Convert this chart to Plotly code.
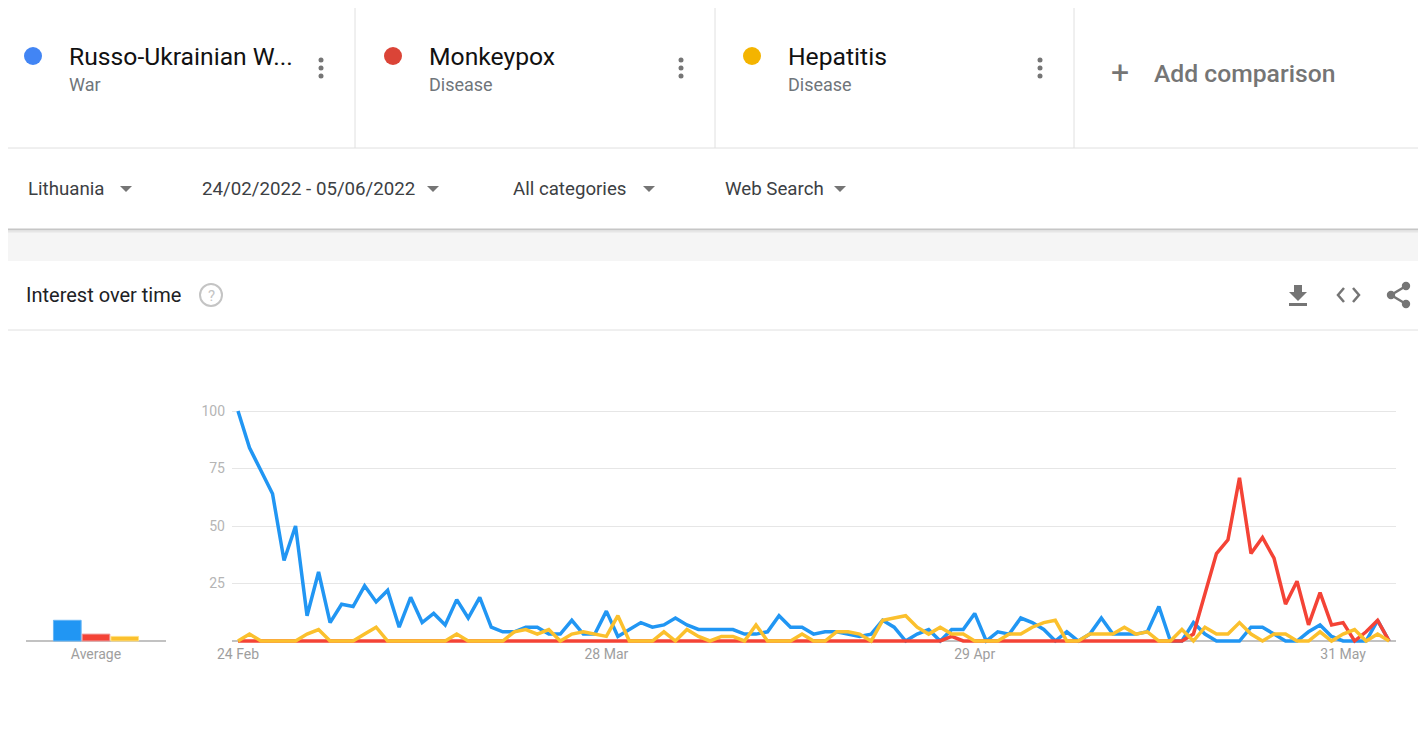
import pandas as pd
import plotly.graph_objects as go

# the page puts the figure 8px in from the top-left corner, so the figure is
# sized and positioned to land on the 1426x729 window
OFF = 8
W, H = 1426 - OFF, 729 - 2 * OFF

# daily interest, 24 Feb 2022 onwards
war = [100, 84, 74, 64, 35, 50, 11, 30, 8, 16, 15, 24, 17, 22, 6, 19, 8, 12, 7, 18,
       10, 19, 6, 4, 4, 6, 6, 3, 3, 9, 3, 3, 13, 2, 5, 8, 6, 7, 10, 7,
       5, 5, 5, 5, 3, 3, 4, 11, 6, 6, 3, 4, 4, 3, 2, 3, 9, 6, 0, 3,
       5, 0, 5, 5, 12, 0, 4, 3, 10, 8, 5, 0, 4, 0, 3, 10, 3, 3, 3, 4,
       15, 0, 0, 8, 3, 0, 0, 0, 6, 6, 3, 0, 0, 4, 7, 2, 0, 0, 0, 9, 0]
monkeypox = [0] * 62 + [2] + [0] * 20 + [3, 20, 38, 44, 71, 38, 45, 36, 16, 26, 7, 21, 7, 8, 0, 4, 9, 0]
hepatitis = [0, 3, 0, 0, 0, 0, 3, 5, 0, 0, 0, 3, 6, 0, 0, 0, 0, 0, 0, 3,
             0, 0, 0, 0, 4, 5, 3, 5, 0, 3, 4, 3, 2, 11, 0, 0, 0, 4, 0, 5,
             2, 0, 2, 2, 0, 7, 0, 0, 0, 3, 0, 0, 4, 4, 3, 0, 9, 10, 11, 6,
             3, 6, 3, 3, 0, 0, 0, 3, 3, 6, 8, 9, 0, 0, 3, 3, 3, 6, 3, 4,
             0, 0, 5, 0, 6, 3, 3, 8, 3, 0, 3, 3, 0, 0, 4, 0, 3, 5, 0, 3, 0]

averages = [9, 3, 2]
tick_dates = ["2022-02-24", "2022-03-28", "2022-04-29", "2022-05-31"]
tick_labels = ["24 Feb", "28 Mar", "29 Apr", "31 May"]

dates = pd.date_range("2022-02-24", periods=len(war), freq="D")

colors = dict(war="#2196F3", monkeypox="#F44336", hepatitis="#FBC02D")
dot_colors = ["#4285F4", "#DB4437", "#F4B400"]
grey = "#757575"


def px(x):
    return (x - OFF) / W


def py(y):
    return 1 - (y - OFF) / H


# y axis: 0 at 641px, 100 at 411px, with a little padding so lines are not clipped
pad = 1.5
unit = (641 - 411) / 100
y_dom = [py(641 + pad * unit), py(411 - pad * unit)]

fig = go.Figure()
fig.add_scatter(x=dates, y=war, mode="lines", line=dict(color=colors["war"], width=3.5),
                name="Russo-Ukrainian War")
fig.add_scatter(x=dates, y=monkeypox, mode="lines", line=dict(color=colors["monkeypox"], width=3.5),
                name="Monkeypox")
fig.add_scatter(x=dates, y=hepatitis, mode="lines", line=dict(color=colors["hepatitis"], width=3.5),
                name="Hepatitis")

fig.add_bar(x=[0, 1, 2], y=averages, xaxis="x2", yaxis="y2", width=0.965,
            marker=dict(color=[colors["war"], colors["monkeypox"], colors["hepatitis"]],
                        line=dict(color=["#64B5F6", "#EF9A9A", "#FFE082"], width=1)))

fig.update_layout(
    width=W,
    height=H,
    margin=dict(t=0, b=0, l=0, r=0, pad=0, autoexpand=False),
    paper_bgcolor="white",
    plot_bgcolor="white",
    showlegend=False,
    font=dict(family="Roboto", color="#202124"),
    xaxis=dict(
        domain=[px(232), px(1396)],
        range=["2022-02-23 11:30", "2022-06-04 14:20"],
        tickvals=tick_dates,
        ticktext=tick_labels,
        showgrid=False,
        zeroline=False,
        showline=False,
        ticks="",
        automargin=False,
        tickfont=dict(size=14, color="#9e9e9e"),
        anchor="y",
    ),
    yaxis=dict(
        domain=y_dom,
        range=[-pad, 100 + pad],
        tickvals=[25, 50, 75, 100],
        showgrid=True,
        gridcolor="#e6e6e6",
        gridwidth=1,
        zeroline=True,
        zerolinecolor="#c2c2c2",
        zerolinewidth=2,
        ticks="",
        automargin=False,
        ticklabelstandoff=6,
        tickfont=dict(size=14, color="#b5b5b5"),
        anchor="x",
    ),
    xaxis2=dict(
        domain=[px(26), px(166)],
        range=[-1.439, 3.439],
        tickvals=[1],
        ticktext=["Average"],
        showgrid=False,
        zeroline=False,
        ticks="",
        automargin=False,
        tickfont=dict(size=14, color="#9e9e9e"),
        anchor="y2",
    ),
    yaxis2=dict(
        domain=y_dom,
        range=[-pad, 100 + pad],
        showgrid=False,
        showticklabels=False,
        zeroline=True,
        zerolinecolor="#c2c2c2",
        zerolinewidth=2,
        automargin=False,
        anchor="x2",
    ),
)

shapes = []
annotations = []


def line(x0, y0, x1, y1, color="#e0e0e0", width=1):
    shapes.append(dict(type="line", xref="paper", yref="paper",
                       x0=px(x0), y0=py(y0), x1=px(x1), y1=py(y1),
                       line=dict(color=color, width=width)))


def circle(cx, cy, r, fill=None, outline=None, width=0):
    shapes.append(dict(type="circle", xref="paper", yref="paper",
                       x0=px(cx - r), x1=px(cx + r), y0=py(cy + r), y1=py(cy - r),
                       fillcolor=fill if fill else "rgba(0,0,0,0)",
                       line=dict(color=outline if outline else "rgba(0,0,0,0)", width=width)))


def rect(x0, y0, x1, y1, fill):
    shapes.append(dict(type="rect", xref="paper", yref="paper", layer="below",
                       x0=px(x0), x1=px(x1), y0=py(y1), y1=py(y0),
                       fillcolor=fill, line=dict(width=0)))


def path(points, fill=None, color=grey, width=0, closed=True):
    d = "M " + " L ".join(f"{px(x)},{py(y)}" for x, y in points)
    if closed:
        d += " Z"
    shapes.append(dict(type="path", xref="paper", yref="paper", path=d,
                       fillcolor=fill if fill else "rgba(0,0,0,0)",
                       line=dict(color=color if width else "rgba(0,0,0,0)", width=width)))


def text(x, y, s, size, color="#202124", anchor="left", weight=None):
    f = dict(size=size, color=color, family="Roboto")
    if weight:
        f["weight"] = weight
    annotations.append(dict(xref="paper", yref="paper", x=px(x), y=py(y), text=s,
                            showarrow=False, xanchor=anchor, yanchor="middle",
                            borderpad=0, borderwidth=0, font=f))


# header cards with the compared terms
terms = ["Russo-Ukrainian W...", "Monkeypox", "Hepatitis"]
kinds = ["War", "Disease", "Disease"]
for i, (term, kind) in enumerate(zip(terms, kinds)):
    x0 = 360 * i - (0 if i < 2 else 1)
    circle(33 + x0, 56, 9, fill=dot_colors[i])
    text(69 + x0, 56, term, 24.7, color="#111111")
    text(69 + x0, 84, kind, 18, color="#70757a")
    for dy in (-8, 0, 8):
        circle(321 + x0, 68 + dy, 2.5, fill=grey)

for xs in (355, 715, 1074):
    line(xs, 0, xs, 148)
line(0, 148, 1426, 148)
text(1120, 72, "+", 32, color=grey, anchor="center")
text(1154, 73, "Add comparison", 24.7, color=grey, weight=500)

# filter row
filters = [("Lithuania", 28, 126), ("24/02/2022 - 05/06/2022", 202, 433),
           ("All categories", 513, 649), ("Web Search", 725, 840)]
for label, x, ax in filters:
    text(x, 189, label, 18.7, color="#3c4043")
    path([(ax - 6, 186), (ax + 6, 186), (ax, 192)], fill=grey)

rect(0, 229, 1426, 261, "#f5f5f5")
line(0, 229.5, 1426, 229.5, color="#c6c6c6", width=2)
line(0, 231.5, 1426, 231.5, color="#e6e6e6", width=2)

# card title row
text(26, 295, "Interest over time", 20, color="#202124")
circle(211, 295, 11, outline="#c4c4c4", width=2)
text(211, 296, "?", 15, color="#c4c4c4", anchor="center")
line(0, 330, 1426, 330)

# download icon
rect(1294, 285, 1302, 293, grey)
path([(1289, 292), (1307, 292), (1298, 301)], fill=grey)
rect(1289, 303, 1307, 306, grey)
# embed icon
path([(1344, 288), (1338, 295), (1344, 302)], color=grey, width=2.5, closed=False)
path([(1353, 288), (1359, 295), (1353, 302)], color=grey, width=2.5, closed=False)
# share icon
path([(1406, 286), (1391, 295), (1406, 304)], color=grey, width=2.5, closed=False)
for cx, cy in [(1406, 286), (1391, 295), (1406, 304)]:
    circle(cx, cy, 4.2, fill=grey)

fig.update_layout(shapes=shapes, annotations=annotations)

fig.write_html("out.html", config={"displayModeBar": False})
